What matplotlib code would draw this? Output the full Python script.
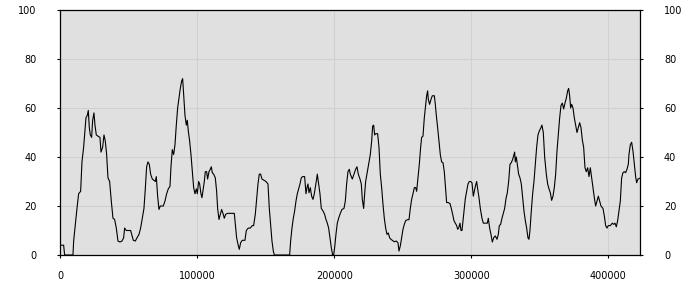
import matplotlib
matplotlib.use("Agg")
import matplotlib.pyplot as plt

x_values = [
    0, 1240, 2460, 3190, 9270, 9760, 10970, 12190, 13400, 14870, 15840, 17060, 17790,
    18760, 19730, 20460, 21190, 21920, 22900, 23630, 24600, 25330, 26300, 27520, 28980,
    29710, 30930, 31900, 32870, 33840, 34820, 36030, 37250, 38470, 39680, 40900, 42120,
    43580, 45040, 46250, 46980, 48200, 49900, 51360, 52340, 53310, 54770, 55990, 57450,
    58660, 59880, 61090, 62070, 63040, 64010, 64990, 65960, 67180, 68390, 69370, 70100,
    71080, 72050, 73020, 75210, 76430, 77650, 78860, 80080, 80810, 81780, 82760, 83730,
    84700, 85680, 86650, 87620, 88600, 89330, 90060, 91030, 92000, 92730, 93460, 94440,
    95410, 96380, 97360, 98330, 99300, 100030, 101000, 101740, 102700, 103440, 104410,
    105140, 105870, 106840, 107570, 108550, 109520, 110250, 110980, 111950, 113170,
    114140, 114870, 115850, 116820, 117790, 118770, 119740, 120710, 122170, 123880,
    125580, 127040, 127770, 128740, 129720, 130690, 131660, 132880, 134820, 135800,
    137260, 138720, 140180, 141150,
    142370, 143350, 144320, 145290, 146270, 147240, 148700, 150160, 151620, 152590,
    153570, 154540, 155510, 156240, 167430, 168160, 169140, 170110, 171080, 172060,
    173030, 174000, 174980, 175950, 176920, 178380, 179360, 180090, 180820, 181550,
    182520, 183490, 184470, 185440, 186170, 187140, 187630, 188600, 189570, 190550,
    191760, 192980, 193950, 194930, 195900, 196870, 197850, 198820, 199550, 200280,
    201250, 202230, 203200, 204420, 205630, 207090, 208070, 209040, 210010, 210990,
    211720, 213180, 214400, 215620, 216590, 217560, 218780, 219750, 220480, 221460,
    222190, 222920, 224130, 225350, 226320, 227300, 228030, 228760, 229490, 230220,
    231680, 232650, 233620, 234600, 235570, 236540, 237510, 238490, 239460, 240430,
    241410, 242380, 243840, 245300, 246520, 247250, 248220, 249190, 250170, 251140,
    252110, 253330, 254550, 255520, 256490, 257470, 258440, 259410, 260140, 261110,
    262090, 263060, 263790, 264760, 265740, 266710, 267440, 268170, 268660, 269630,
    270600, 271580, 273040, 273770, 274500, 275470, 276440, 277410, 278390, 279360,
    280330, 281310, 282040, 283250,
    284480, 285450, 286430, 287400, 288370, 289350, 290080, 290810, 291780, 292510,
    293240, 293970, 294700, 295670, 296650, 297620, 298590, 299570, 300540, 301510,
    302240, 302970, 303950, 304680, 305650, 306620, 307840, 308810, 310270, 311730,
    312460, 313430, 314410, 315380, 316350, 317570, 318790, 319760, 320490, 321460,
    322440, 323410, 324380, 325360, 326330, 327300, 328280, 329250, 330220, 331190,
    331680, 332170, 332900, 333630, 334600, 335570, 336550, 337520, 338490, 339470,
    340440, 341410, 342140, 342870, 343850, 344820, 345790, 346770, 347740, 348710,
    349680, 350660, 351630, 352600, 353590, 354800, 355780, 356750, 357720, 358700,
    359670, 360640, 361620, 362590, 363560, 364540, 365510, 366480, 367460, 368430,
    369400, 370380, 371110, 371840, 372570, 373300, 374270, 375240, 376210, 377190,
    378160, 379130, 380110, 381080, 382050, 383030, 384000, 384970, 385950, 386920,
    387890, 388870, 389840, 390810, 391780, 392760, 393730, 394700, 396170, 397140,
    398110, 399080, 400060, 401520, 402980, 403950, 404920, 405900, 406870, 407840,
    408820, 409790, 410760, 411740, 412710, 413680, 414660, 415140, 416120, 417090,
    418060, 419040, 420010, 420740, 421710, 422930,
]

y_values = [
    4, 4, 4, 0, 0, 5.7, 12.5, 19, 25, 26, 38, 44, 49,
    56, 57, 59, 52, 49, 48, 55, 58, 53, 49, 48.5, 48,
    42, 44, 49, 46.5, 41, 31.5, 30, 22, 15, 14.5, 11, 5.7,
    5.3, 5.7, 7, 11, 10, 10, 10, 8, 6, 5.7, 7, 8.4,
    11, 15, 19, 27, 36, 38, 37, 33, 31, 30.5, 30, 32,
    24, 18.6, 20, 20, 22, 25, 27, 28, 36, 43, 41, 45,
    53, 60, 64, 68, 71, 72, 65.5, 57, 53, 55, 50.6, 46.5,
    41, 34, 27.5, 25, 27, 25, 30, 29, 25, 23.4, 27,
    30, 34, 34, 31, 34, 35, 36, 33.6, 33, 31.5,
    26, 19, 14.5, 16.6, 18.6, 17, 15, 16.6, 17, 17,
    17, 17, 12.5, 7, 4.4, 2.3, 5, 6, 6, 10,
    11, 11, 12, 12,
    16.6, 23, 29, 33, 33, 31, 30.5, 30, 29, 19,
    12.5, 5.7, 1.6, 0, 0, 5.7, 11, 15, 18, 22,
    25, 27, 29, 31.5, 32, 32, 25, 27.5, 29, 25.4,
    27.5, 24, 22.7, 25, 27.5, 31, 33, 29, 25, 19,
    18, 16.6, 14.5, 13, 11, 7, 3, 0, 0, 3,
    8.4, 13, 15, 17, 18.6, 19, 22, 29, 34, 35,
    33, 31, 33, 35, 36, 33, 31, 29, 22.7, 19,
    25, 30, 34, 38, 41, 46.5, 52.6, 53, 49, 49.5,
    49.5, 44, 33, 27.5, 20.7, 15, 11, 8.4, 9, 7,
    6.4, 6, 5.4, 5.7, 5, 1.6, 3.7, 7, 10.5, 12.5,
    14, 14.4, 14.4, 19, 22.7, 25, 27.5, 27.5, 26, 31.5,
    37, 44, 48, 48.5, 56, 61, 65, 67, 63.5, 61.5,
    63.5, 65, 65, 61.5, 57, 52, 46.5, 41, 38, 37.7,
    34, 27, 21.4, 21.4,
    21, 19, 16.6, 14, 13, 12, 10.5, 11, 13, 10,
    10, 14, 18, 23, 26, 29, 30, 30, 29.5, 24,
    26, 28, 30, 27, 23.4, 19, 15, 13, 13, 13,
    15, 11, 8.4, 5.3, 7, 7.8, 6.4, 8.4, 12, 12.5,
    15, 17, 19, 23, 25.4, 30, 37, 37.7, 39, 41,
    42, 38, 40, 37, 33, 31.5, 29, 23.4, 18, 14,
    11, 7, 6.4, 10, 18, 25, 30, 37, 44, 49,
    50.6, 51.7, 53, 50, 40, 33, 29, 27, 25.4, 22.3,
    24, 27.5, 33, 42.4, 49, 56, 61, 62, 59.6, 62,
    64, 67, 68, 65, 60, 61.5, 60, 56, 53, 50,
    52, 54, 52, 47, 44, 35.6, 34, 35.6, 32, 35.6,
    31.5, 27.5, 23.4, 20, 22, 24, 22, 20, 19, 16,
    12, 11, 12, 12, 13, 12.5, 13, 11.5, 14, 18,
    22, 31.5, 33.6, 34, 33.6, 35, 37, 41, 45, 46,
    42.4, 37, 32, 29.5, 31, 31.3,
]

x_ticks = [0, 100000, 200000, 300000, 400000]
x_tick_labels = ["0", "100000", "200000", "300000", "400000"]
y_ticks = [0, 20, 40, 60, 80, 100]
y_tick_labels = ["0", "20", "40", "60", "80", "100"]
x_max = 423400

fig = plt.figure(figsize=(7, 3), dpi=100)
ax = fig.add_axes([0.0861, 0.15, 0.8286, 0.8167])
ax.set_facecolor("#e0e0e0")
ax.plot(x_values, y_values, color="black", linewidth=0.8, zorder=3)
ax.set_xlim(0, x_max)
ax.set_ylim(0, 100)
ax.set_xticks(x_ticks)
ax.set_xticklabels(x_tick_labels)
ax.set_yticks(y_ticks)
ax.set_yticklabels(y_tick_labels)
ax.grid(True, color="#d0d0d0", linewidth=0.8, zorder=0)
ax.set_axisbelow(True)
for sp in ax.spines.values():
    sp.set_color("black")
    sp.set_linewidth(0.9)
ax.tick_params(axis="y", which="both", left=True, right=True, labelleft=True,
               labelright=True, length=2, width=0.8, labelsize=7, colors="black")
ax.tick_params(axis="y", which="both", pad=15)
ax.tick_params(axis="x", length=2, width=0.8, labelsize=7, pad=9.5, colors="black")
for lab in ax.get_yticklabels(which="both"):
    lab.set_family("DejaVu Sans")
fig.savefig("out.png", dpi=100)
